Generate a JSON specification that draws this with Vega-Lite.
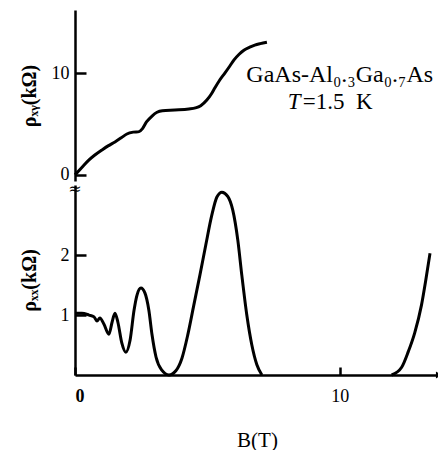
{
  "$schema": "https://vega.github.io/schema/vega-lite/v6.json",
  "padding": {"left": 19, "top": 10, "right": 0, "bottom": 0},
  "spacing": 4,
  "bounds": "flush",
  "background": "white",
  "config": {
    "view": {"stroke": null},
    "font": "Liberation Serif",
    "axis": {
      "grid": false,
      "domainColor": "black",
      "domainWidth": 2.5,
      "tickColor": "black",
      "tickWidth": 2.5,
      "labelColor": "black",
      "labelFont": "Liberation Serif",
      "labelFontSize": 18,
      "titleColor": "black",
      "titleFont": "Liberation Serif"
    }
  },
  "datasets": {
    "rxy": [
      {"B": 0, "rho": 0}, {"B": 0.25, "rho": 0.7}, {"B": 0.53, "rho": 1.47}, {"B": 0.75, "rho": 1.95},
      {"B": 1.02, "rho": 2.45}, {"B": 1.25, "rho": 2.85}, {"B": 1.51, "rho": 3.24}, {"B": 1.75, "rho": 3.65},
      {"B": 1.96, "rho": 4.02}, {"B": 2.2, "rho": 4.2}, {"B": 2.42, "rho": 4.25}, {"B": 2.55, "rho": 4.55},
      {"B": 2.7, "rho": 5.2}, {"B": 2.91, "rho": 5.78}, {"B": 3.1, "rho": 6.15}, {"B": 3.3, "rho": 6.3},
      {"B": 3.77, "rho": 6.37}, {"B": 4.3, "rho": 6.47}, {"B": 4.55, "rho": 6.58}, {"B": 4.75, "rho": 6.8},
      {"B": 4.98, "rho": 7.35}, {"B": 5.15, "rho": 7.95}, {"B": 5.28, "rho": 8.53}, {"B": 5.45, "rho": 9.25},
      {"B": 5.66, "rho": 10.0}, {"B": 5.85, "rho": 10.7}, {"B": 6.0, "rho": 11.27}, {"B": 6.2, "rho": 11.85},
      {"B": 6.38, "rho": 12.25}, {"B": 6.6, "rho": 12.55}, {"B": 6.79, "rho": 12.75}, {"B": 7.0, "rho": 12.9},
      {"B": 7.25, "rho": 13.04}
    ],
    "rxx": [
      {"seg": "a", "B": 0, "rho": 1.03}, {"seg": "a", "B": 0.26, "rho": 1.03}, {"seg": "a", "B": 0.53, "rho": 1.0},
      {"seg": "a", "B": 0.72, "rho": 0.97}, {"seg": "a", "B": 0.83, "rho": 0.9}, {"seg": "a", "B": 0.94, "rho": 0.95},
      {"seg": "a", "B": 1.09, "rho": 0.85}, {"seg": "a", "B": 1.28, "rho": 0.68}, {"seg": "a", "B": 1.4, "rho": 0.88},
      {"seg": "a", "B": 1.51, "rho": 1.03}, {"seg": "a", "B": 1.62, "rho": 0.88}, {"seg": "a", "B": 1.77, "rho": 0.53},
      {"seg": "a", "B": 1.92, "rho": 0.38}, {"seg": "a", "B": 2.08, "rho": 0.58}, {"seg": "a", "B": 2.23, "rho": 1.08},
      {"seg": "a", "B": 2.34, "rho": 1.33}, {"seg": "a", "B": 2.49, "rho": 1.45}, {"seg": "a", "B": 2.64, "rho": 1.37},
      {"seg": "a", "B": 2.79, "rho": 1.08}, {"seg": "a", "B": 2.91, "rho": 0.67}, {"seg": "a", "B": 3.06, "rho": 0.3},
      {"seg": "a", "B": 3.28, "rho": 0.08}, {"seg": "a", "B": 3.55, "rho": 0.0}, {"seg": "a", "B": 3.81, "rho": 0.07},
      {"seg": "a", "B": 4.04, "rho": 0.28}, {"seg": "a", "B": 4.26, "rho": 0.67}, {"seg": "a", "B": 4.49, "rho": 1.17},
      {"seg": "a", "B": 4.72, "rho": 1.67}, {"seg": "a", "B": 4.94, "rho": 2.17}, {"seg": "a", "B": 5.17, "rho": 2.67},
      {"seg": "a", "B": 5.36, "rho": 2.97}, {"seg": "a", "B": 5.55, "rho": 3.05}, {"seg": "a", "B": 5.77, "rho": 2.98},
      {"seg": "a", "B": 5.96, "rho": 2.75}, {"seg": "a", "B": 6.15, "rho": 2.25}, {"seg": "a", "B": 6.3, "rho": 1.67},
      {"seg": "a", "B": 6.49, "rho": 1.0}, {"seg": "a", "B": 6.68, "rho": 0.5}, {"seg": "a", "B": 6.87, "rho": 0.17},
      {"seg": "a", "B": 7.06, "rho": 0.0},
      {"seg": "b", "B": 11.96, "rho": 0.0}, {"seg": "b", "B": 12.34, "rho": 0.13}, {"seg": "b", "B": 12.59, "rho": 0.39},
      {"seg": "b", "B": 12.83, "rho": 0.7}, {"seg": "b", "B": 13.09, "rho": 1.17}, {"seg": "b", "B": 13.25, "rho": 1.58},
      {"seg": "b", "B": 13.41, "rho": 2.03}
    ]
  },
  "vconcat": [
    {
      "width": 364,
      "height": 171,
      "layer": [
        {
          "data": {"name": "rxy"},
          "mark": {"type": "line", "color": "black", "strokeWidth": 3, "interpolate": "monotone"},
          "encoding": {
            "x": {"field": "B", "type": "quantitative", "scale": {"domain": [0, 13.75], "nice": false}, "axis": null},
            "y": {
              "field": "rho", "type": "quantitative",
              "scale": {"domain": [-0.6, 16.2], "nice": false, "zero": false},
              "axis": {"values": [0, 10], "format": "d", "title": "ρₓᵧ(kΩ)", "tickSize": -11, "labelPadding": 17,
                       "titleX": -36, "titleFontSize": 20, "titleFontWeight": "bold"}
            }
          }
        },
        {
          "data": {"values": [{"label": "GaAs-Al₀.₃Ga₀.₇As", "B": 10.0, "rho": 9.8}]},
          "mark": {"type": "text", "fontSize": 24, "font": "Liberation Serif", "color": "black", "align": "center", "baseline": "middle"},
          "encoding": {
            "x": {"field": "B", "type": "quantitative"},
            "y": {"field": "rho", "type": "quantitative"},
            "text": {"field": "label"}
          }
        },
        {
          "data": {"values": [{"label": "=1.5\u00a0\u00a0K", "B": 8.6, "rho": 7.2}]},
          "mark": {"type": "text", "fontSize": 23, "font": "Liberation Serif", "color": "black", "align": "left", "baseline": "middle"},
          "encoding": {
            "x": {"field": "B", "type": "quantitative"},
            "y": {"field": "rho", "type": "quantitative"},
            "text": {"field": "label"}
          }
        },
        {
          "data": {"values": [{"label": "T", "B": 8.04, "rho": 7.2}]},
          "mark": {"type": "text", "fontSize": 23, "font": "Liberation Serif", "fontStyle": "italic", "color": "black", "align": "left", "baseline": "middle"},
          "encoding": {
            "x": {"field": "B", "type": "quantitative"},
            "y": {"field": "rho", "type": "quantitative"},
            "text": {"field": "label"}
          }
        }
      ]
    },
    {
      "width": 364,
      "height": 190,
      "layer": [
        {
          "data": {"name": "rxx"},
          "mark": {"type": "line", "color": "black", "strokeWidth": 3, "interpolate": "monotone"},
          "encoding": {
            "x": {
              "field": "B", "type": "quantitative", "scale": {"domain": [0, 13.75], "nice": false},
              "axis": {"values": [0, 10], "format": "d", "title": "B(T)", "tickSize": -8, "labelPadding": 20,
                       "labelFontWeight": {"condition": {"test": "datum.value === 0", "value": "bold"}, "value": "normal"},
                       "titleFontSize": 21, "titleFontWeight": "normal", "titlePadding": 24}
            },
            "y": {
              "field": "rho", "type": "quantitative",
              "scale": {"domain": [0, 3.17], "nice": false},
              "axis": {"values": [1, 2], "format": "d", "title": "ρₓₓ(kΩ)", "tickSize": -11, "labelPadding": 17,
                       "titleX": -36, "titleFontSize": 20, "titleFontWeight": "bold"}
            },
            "detail": {"field": "seg"}
          }
        },
        {
          "data": {"values": [{"B": 13.75, "rho": 0}]},
          "mark": {"type": "point", "shape": "triangle-right", "filled": true, "color": "black", "opacity": 1, "size": 50},
          "encoding": {
            "x": {"field": "B", "type": "quantitative"},
            "y": {"field": "rho", "type": "quantitative"}
          }
        },
        {
          "data": {"values": [{"label": "≈", "B": 0, "rho": 3.1}]},
          "mark": {"type": "text", "fontSize": 16, "font": "DejaVu Serif", "color": "black", "align": "center", "baseline": "middle"},
          "encoding": {
            "x": {"field": "B", "type": "quantitative"},
            "y": {"field": "rho", "type": "quantitative"},
            "text": {"field": "label"}
          }
        }
      ]
    }
  ]
}
